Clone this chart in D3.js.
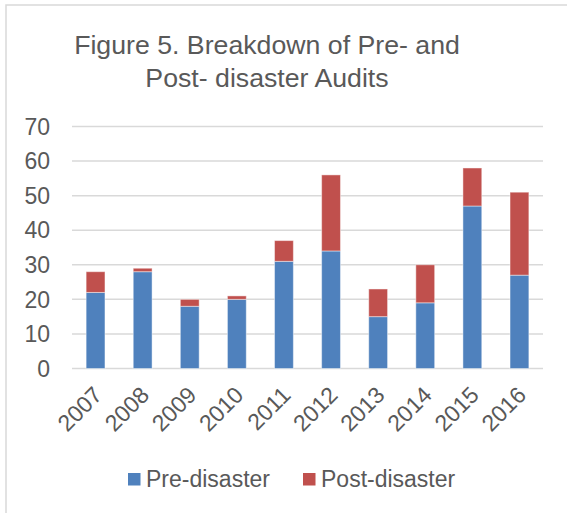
<!DOCTYPE html>
<html lang="en">
<head>
    <meta charset="UTF-8">
    <title>Figure 5</title>
    <script src="https://d3js.org/d3.v7.min.js"></script>
    <style>
        body { margin: 0; background: #fff; }
        text { font-family: "Liberation Sans", Arial, sans-serif; fill: #595959; }
    </style>
</head>
<body>
    <div id="chart"></div>
    <script>
        // Data
        const years = ["2007", "2008", "2009", "2010", "2011", "2012", "2013", "2014", "2015", "2016"];
        const preDisaster = [22, 28, 18, 20, 31, 34, 15, 19, 47, 27];
        const postDisaster = [6, 1, 2, 1, 6, 22, 8, 11, 11, 24];
        const yTicks = [0, 10, 20, 30, 40, 50, 60, 70];
        const seriesNames = ["Pre-disaster", "Post-disaster"];
        const colors = ["#4F81BD", "#C0504D"];

        const width = 567;
        const height = 513;

        const svg = d3.select("#chart")
            .append("svg")
            .attr("width", width)
            .attr("height", height);

        // Chart frame (right and bottom edges fall outside the window)
        svg.append("rect")
            .attr("x", 6)
            .attr("y", 5)
            .attr("width", 600)
            .attr("height", 560)
            .attr("fill", "none")
            .attr("stroke", "#D9D9D9")
            .attr("stroke-width", 1.5);

        // Title
        const title = svg.append("text")
            .attr("text-anchor", "middle")
            .style("font-size", "26.7px");
        title.append("tspan").attr("x", 267).attr("y", 54).text("Figure 5. Breakdown of Pre- and");
        title.append("tspan").attr("x", 267).attr("y", 87).text("Post- disaster Audits");

        // Scales
        const x = d3.scaleBand()
            .domain(years)
            .range([72, 543])
            .paddingInner(0.6)
            .paddingOuter(0.3);

        const y = d3.scaleLinear()
            .domain([0, 70])
            .range([368.5, 126.5]);

        // Gridlines
        svg.append("g")
            .selectAll("line")
            .data(yTicks)
            .join("line")
            .attr("x1", 72)
            .attr("x2", 543)
            .attr("y1", d => y(d))
            .attr("y2", d => y(d))
            .attr("stroke", "#D9D9D9")
            .attr("stroke-width", 1.5);

        // Y axis labels
        svg.append("g")
            .selectAll("text")
            .data(yTicks)
            .join("text")
            .attr("x", 50)
            .attr("y", d => y(d))
            .attr("dy", "0.36em")
            .attr("text-anchor", "end")
            .style("font-size", "23px")
            .text(d => d);

        // Stack the two series
        const rows = years.map((yr, i) => ({ year: yr, pre: preDisaster[i], post: postDisaster[i] }));
        const stacked = d3.stack().keys(["pre", "post"])(rows);

        svg.append("g")
            .selectAll("g")
            .data(stacked)
            .join("g")
            .attr("fill", (d, i) => colors[i])
            .selectAll("rect")
            .data(d => d)
            .join("rect")
            .attr("x", d => x(d.data.year))
            .attr("y", d => y(d[1]))
            .attr("width", x.bandwidth())
            .attr("height", d => y(d[0]) - y(d[1]))
            .attr("stroke", "#fff")
            .attr("stroke-opacity", 0.45)
            .attr("stroke-width", 1);

        // X axis labels, rotated
        svg.append("g")
            .selectAll("text")
            .data(years)
            .join("text")
            .attr("text-anchor", "end")
            .attr("transform", d => `translate(${x(d) + x.bandwidth() / 2 + 8}, ${y(0) + 28}) rotate(-45)`)
            .style("font-size", "23px")
            .text(d => d);

        // Legend
        const legendItems = [
            { name: seriesNames[0], color: colors[0], x: 128 },
            { name: seriesNames[1], color: colors[1], x: 303 }
        ];
        const legend = svg.append("g")
            .selectAll("g")
            .data(legendItems)
            .join("g")
            .attr("transform", d => `translate(${d.x}, 473)`);

        legend.append("rect")
            .attr("width", 12.5)
            .attr("height", 12.5)
            .attr("fill", d => d.color);

        legend.append("text")
            .attr("x", 18)
            .attr("y", 13.5)
            .style("font-size", "23px")
            .text(d => d.name);
    </script>
</body>
</html>
